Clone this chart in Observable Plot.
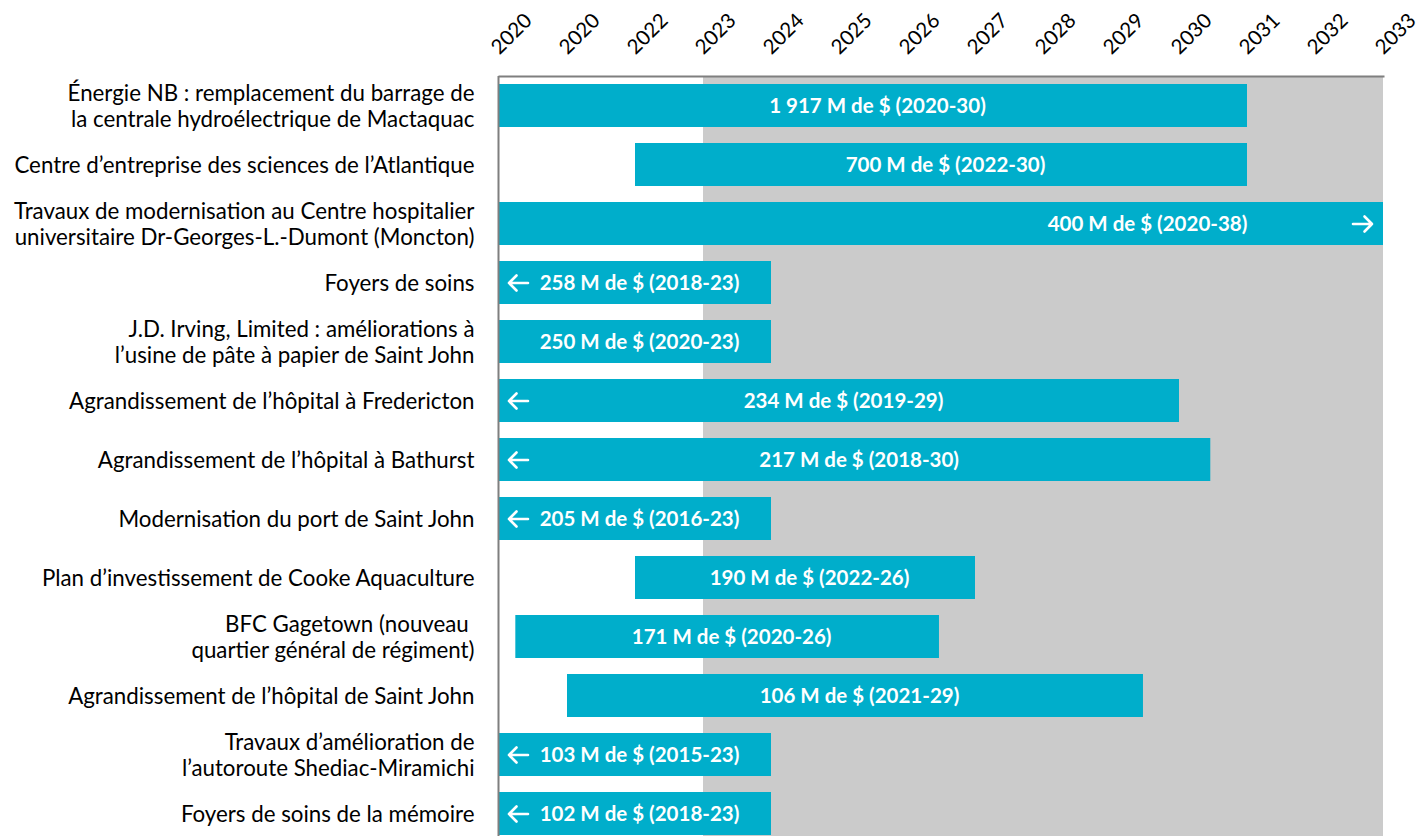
<!DOCTYPE html>
<html><head><meta charset="utf-8">
<script src="https://cdn.jsdelivr.net/npm/d3@7"></script>
<script src="https://cdn.jsdelivr.net/npm/@observablehq/plot@0.6"></script>
<style>body{margin:0;background:#fff;} #chart svg{display:block;}</style>
</head><body><div id="chart"></div>
<script>
const projects = [
  "Énergie NB : remplacement du barrage de\nla centrale hydroélectrique de Mactaquac",
  "Centre d’entreprise des sciences de l’Atlantique",
  "Travaux de modernisation au Centre hospitalier\nuniversitaire Dr-Georges-L.-Dumont (Moncton)",
  "Foyers de soins",
  "J.D. Irving, Limited : améliorations à\nl’usine de pâte à papier de Saint John",
  "Agrandissement de l’hôpital à Fredericton",
  "Agrandissement de l’hôpital à Bathurst",
  "Modernisation du port de Saint John",
  "Plan d’investissement de Cooke Aquaculture",
  "BFC Gagetown (nouveau \nquartier général de régiment)",
  "Agrandissement de l’hôpital de Saint John",
  "Travaux d’amélioration de\nl’autoroute Shediac-Miramichi",
  "Foyers de soins de la mémoire"
];
const startYears = [2020, 2022, 2020, 2020, 2020, 2020, 2020, 2020, 2022, 2020.24, 2021, 2020, 2020];
const endYears   = [2031, 2031, 2033, 2024, 2024, 2030, 2030.46, 2024, 2027, 2026.47, 2029.47, 2024, 2024];
const amountLabels = [
  "1 917 M de $ (2020-30)", "700 M de $ (2022-30)", "400 M de $ (2020-38)",
  "258 M de $ (2018-23)", "250 M de $ (2020-23)", "234 M de $ (2019-29)",
  "217 M de $ (2018-30)", "205 M de $ (2016-23)", "190 M de $ (2022-26)",
  "171 M de $ (2020-26)", "106 M de $ (2021-29)", "103 M de $ (2015-23)",
  "102 M de $ (2018-23)"
];
const startsEarlier = [false, false, false, true, false, true, true, true, false, false, false, true, true];
const endsLater     = [false, false, true, false, false, false, false, false, false, false, false, false, false];
const tickYears  = [2020, 2021, 2022, 2023, 2024, 2025, 2026, 2027, 2028, 2029, 2030, 2031, 2032, 2033];
const tickLabels = ["2020", "2020", "2022", "2023", "2024", "2025", "2026", "2027", "2028", "2029", "2030", "2031", "2032", "2033"];
const shadedPeriod = [2023, 2033];

const rows = projects.map((p, i) => ({
  project: p, start: startYears[i], end: endYears[i], label: amountLabels[i],
  before: startsEarlier[i], after: endsLater[i]
}));
const ticks = tickYears.map((y, i) => ({year: y, label: tickLabels[i]}));

const FONT = "Lato, 'Open Sans', sans-serif";
const BAR = "#00aecb";

// open-headed arrow shape for the vector mark
const openArrow = {
  draw(context, l) {
    const w = 7.5;
    context.moveTo(0, 0);
    context.lineTo(0, -l);
    context.moveTo(-w, -l + w);
    context.lineTo(0, -l);
    context.lineTo(w, -l + w);
  }
};

const chart = Plot.plot({
  width: 1421, height: 836,
  marginLeft: 499, marginRight: 38, marginTop: 76, marginBottom: -7,
  style: {fontFamily: FONT, background: "#fff", color: "#000", overflow: "visible"},
  x: {domain: [2020, 2033], axis: null},
  y: {domain: projects, padding: 0, axis: null},
  marks: [
    Plot.rect([{a: shadedPeriod[0], b: shadedPeriod[1]}], {x1: "a", x2: "b", fill: "#cbcbcb"}),
    Plot.barX(rows, {y: "project", x1: "start", x2: "end", fill: BAR, insetTop: 8, insetBottom: 8}),
    Plot.text(rows.filter(d => !d.after), {y: "project", x: d => (d.start + d.end) / 2, text: "label",
      fill: "white", fontWeight: "bold", fontSize: 20.5, dx: 4}),
    Plot.text(rows.filter(d => d.after), {y: "project", x: d => (d.start + d.end) / 2, text: "label",
      fill: "white", fontWeight: "bold", fontSize: 20.5, dx: 206}),
    Plot.vector(rows.filter(d => d.before), {y: "project", x: "start", length: 19, rotate: -90,
      anchor: "middle", shape: openArrow, stroke: "white", strokeWidth: 2.6, dx: 19}),
    Plot.vector(rows.filter(d => d.after), {y: "project", x: "end", length: 19, rotate: 90,
      anchor: "middle", shape: openArrow, stroke: "white", strokeWidth: 2.6, dx: -21}),
    Plot.axisY({tickSize: 0, tickPadding: 25, fontSize: 22.3, lineHeight: 1.14, label: null, textAnchor: "end"}),
    Plot.ruleX([shadedPeriod[0] - 3], {stroke: "#7f7f7f", strokeWidth: 2, dx: -1}),
    Plot.frame({anchor: "top", stroke: "#7f7f7f", strokeWidth: 2}),
    Plot.text(ticks, {x: "year", text: "label", frameAnchor: "top", dy: -21, rotate: -45,
      textAnchor: "start", lineAnchor: "bottom", fontSize: 20.5})
  ]
});
document.getElementById("chart").appendChild(chart);
</script>
</body></html>
